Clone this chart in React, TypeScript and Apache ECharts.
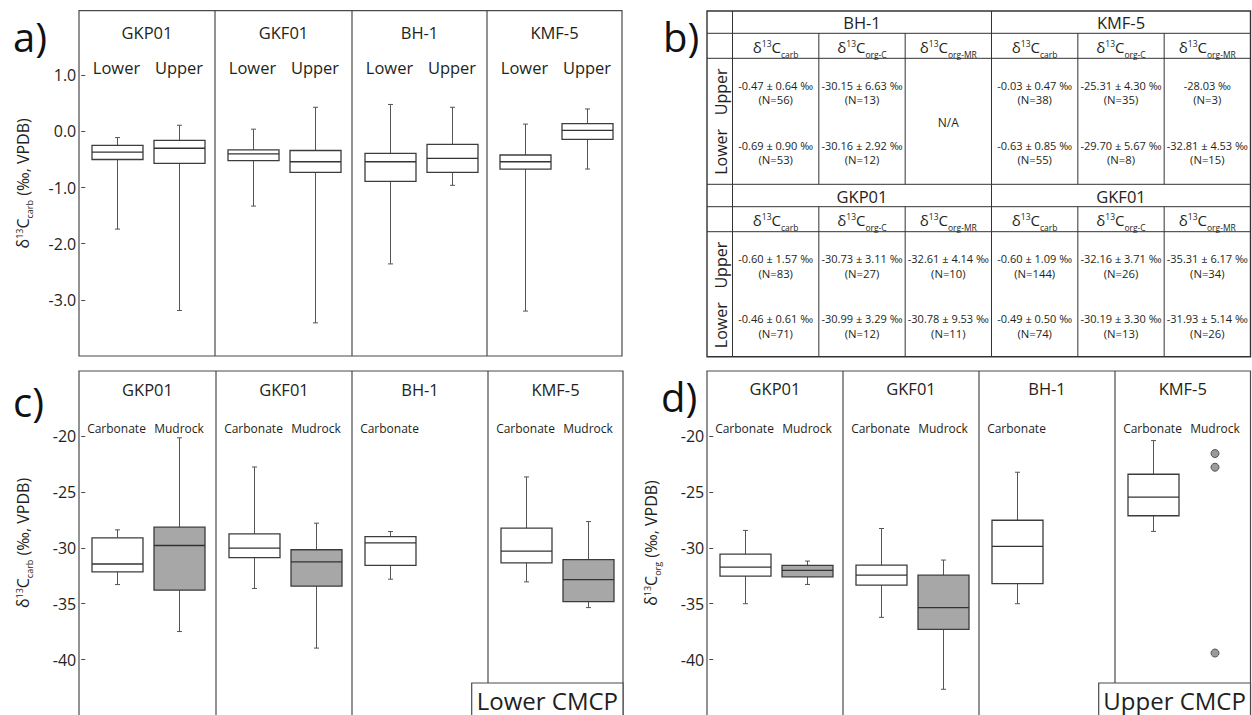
import React, { useEffect, useRef } from 'react';
import * as echarts from 'echarts';

const FONT = '"Open Sans", "Noto Sans", sans-serif';
const INK = '#231f20';
const FRAME = '#4a4a4a';

// ---------- data ----------
const sites = ['GKP01', 'GKF01', 'BH-1', 'KMF-5'];
const stratCats = ['Lower', 'Upper'];
const lithCats = ['Carbonate', 'Mudrock'];
const lithCatsCarbOnly = ['Carbonate', ''];

// Panel a: δ13Ccarb box stats [min, Q1, median, Q3, max]; order Lower, Upper
const carbGKP01 = [[-1.74, -0.5, -0.37, -0.25, -0.11], [-3.19, -0.57, -0.3, -0.16, 0.11]];
const carbGKF01 = [[-1.33, -0.52, -0.4, -0.33, 0.04], [-3.41, -0.73, -0.54, -0.34, 0.43]];
const carbBH1 = [[-2.36, -0.89, -0.54, -0.39, 0.48], [-0.96, -0.73, -0.48, -0.23, 0.43]];
const carbKMF5 = [[-3.2, -0.67, -0.54, -0.42, 0.13], [-0.67, -0.14, 0.02, 0.14, 0.4]];

// Panel c: Lower CMCP; order Carbonate, Mudrock
const lowerGKP01 = [[-33.29, -32.16, -31.45, -29.11, -28.4], [-37.49, -33.79, -29.8, -28.16, -20.17]];
const lowerGKF01 = [[-33.64, -30.89, -30.03, -28.76, -22.78], [-38.97, -33.43, -31.27, -30.18, -27.8]];
const lowerBH1 = [[-32.81, -31.57, -29.56, -29.0, -28.55]];
const lowerKMF5 = [[-33.05, -31.36, -30.3, -28.25, -23.67], [-35.35, -34.82, -32.84, -31.07, -27.66]];

// Panel d: Upper CMCP; order Carbonate, Mudrock
const upperGKP01 = [[-35.0, -32.53, -31.73, -30.57, -28.45], [-33.28, -32.6, -32.03, -31.58, -31.19]];
const upperGKF01 = [[-36.22, -33.34, -32.45, -31.55, -28.28], [-42.65, -37.29, -35.36, -32.45, -31.1]];
const upperBH1 = [[-35.0, -33.21, -29.88, -27.54, -23.25]];
const upperKMF5 = [[-28.54, -27.14, -25.48, -23.43, -20.42]];
const upperKMF5MudrockPoints = [-21.58, -22.8, -39.41];

const carbTicks = [1, 0, -1, -2, -3];
const orgTicks = [-20, -25, -30, -35, -40];

// Panel b table: [mean, sd, N] for carb, org-C, org-MR
const isoSubs = ['carb', 'org-C', 'org-MR'];
const tableTopSites = ['BH-1', 'KMF-5'];
const tableBottomSites = ['GKP01', 'GKF01'];
const bh1Upper = [[-0.47, 0.64, 56], [-30.15, 6.63, 13], null];
const bh1Lower = [[-0.69, 0.9, 53], [-30.16, 2.92, 12], null];
const kmf5Upper = [[-0.03, 0.47, 38], [-25.31, 4.3, 35], [-28.03, null, 3]];
const kmf5Lower = [[-0.63, 0.85, 55], [-29.7, 5.67, 8], [-32.81, 4.53, 15]];
const gkp01Upper = [[-0.6, 1.57, 83], [-30.73, 3.11, 27], [-32.61, 4.14, 10]];
const gkp01Lower = [[-0.46, 0.61, 71], [-30.99, 3.29, 12], [-30.78, 9.53, 11]];
const gkf01Upper = [[-0.6, 1.09, 144], [-32.16, 3.71, 26], [-35.31, 6.17, 34]];
const gkf01Lower = [[-0.49, 0.5, 74], [-30.19, 3.3, 13], [-31.93, 5.14, 26]];

// ---------- layout ----------
const BOX_W = 51;
const CAP = 2.5;

const yName = (sub: string) => `{m|δ}{sup|13}{m|C}{sub|${sub}}{m| (‰, VPDB)}`;

const panels = [
  {
    letter: 'a)', letterX: 13, letterY: 36,
    sections: [79, 215, 352, 487, 622], top: 10.7, bottom: 356,
    min: -4.0, max: 2.15, ticks: carbTicks, fmt: (v: number) => v.toFixed(1),
    boxes: [carbGKP01, carbGKF01, carbBH1, carbKMF5],
    cats: [stratCats, stratCats, stratCats, stratCats],
    catFont: 16.5, fills: ['#ffffff', '#ffffff'], sub: 'carb', titleY: 32.5,
    points: [null, null, null, null], cmcp: null,
  },
  {
    letter: 'c)', letterX: 13, letterY: 401,
    sections: [79, 216, 352, 488, 623], top: 371, bottom: 716,
    min: -44.95, max: -14.2, ticks: orgTicks, fmt: (v: number) => String(v),
    boxes: [lowerGKP01, lowerGKF01, lowerBH1, lowerKMF5],
    cats: [lithCats, lithCats, lithCatsCarbOnly, lithCats],
    catFont: 12, fills: ['#ffffff', '#a7a7a7'], sub: 'carb', titleY: 389.5,
    points: [null, null, null, null], cmcp: { text: 'Lower CMCP', x0: 471.7 },
  },
  {
    letter: 'd)', letterX: 661, letterY: 396,
    sections: [707, 843, 979, 1115, 1250.5], top: 371, bottom: 716,
    min: -44.95, max: -14.2, ticks: orgTicks, fmt: (v: number) => String(v),
    boxes: [upperGKP01, upperGKF01, upperBH1, upperKMF5],
    cats: [lithCats, lithCats, lithCatsCarbOnly, lithCats],
    catFont: 12, fills: ['#ffffff', '#a7a7a7'], sub: 'org', titleY: 388.5,
    points: [null, null, null, upperKMF5MudrockPoints], cmcp: { text: 'Upper CMCP', x0: 1098.7 },
  },
];

const boxRenderer = (fills: string[]) => (params: any, api: any) => {
  const c = api.value(0);
  const pMin = api.coord([c, api.value(1)]);
  const pQ1 = api.coord([c, api.value(2)]);
  const pMed = api.coord([c, api.value(3)]);
  const pQ3 = api.coord([c, api.value(4)]);
  const pMax = api.coord([c, api.value(5)]);
  const x = Math.round(pMed[0]) + 0.5;
  const hw = BOX_W / 2;
  const whisk = { stroke: '#555555', lineWidth: 1 };
  return {
    type: 'group',
    children: [
      { type: 'line', shape: { x1: x, y1: pMax[1], x2: x, y2: pQ3[1] }, style: whisk },
      { type: 'line', shape: { x1: x, y1: pQ1[1], x2: x, y2: pMin[1] }, style: whisk },
      { type: 'line', shape: { x1: x - CAP, y1: pMax[1], x2: x + CAP, y2: pMax[1] }, style: whisk },
      { type: 'line', shape: { x1: x - CAP, y1: pMin[1], x2: x + CAP, y2: pMin[1] }, style: whisk },
      {
        type: 'rect',
        shape: { x: x - hw, y: pQ3[1], width: 2 * hw, height: pQ1[1] - pQ3[1] },
        style: { fill: fills[c], stroke: '#3c3c3c', lineWidth: 1.3 },
      },
      { type: 'line', shape: { x1: x - hw, y1: pMed[1], x2: x + hw, y2: pMed[1] }, style: { stroke: '#333333', lineWidth: 1.3 } },
    ],
  };
};

const txt = (text: string, x: number, y: number, size: number, extra: any = {}) => ({
  type: 'text', x, y, silent: true, ...extra,
  style: { text, fontSize: size, fontFamily: FONT, fill: INK, align: 'center', verticalAlign: 'middle', ...(extra.style || {}) },
});

const isoRich = {
  m: { fontSize: 15, fontFamily: FONT, fill: INK, verticalAlign: 'middle' },
  sup: { fontSize: 8.5, fontFamily: FONT, fill: INK, verticalAlign: 'middle', padding: [0, 0, 7, 0] },
  sub: { fontSize: 8.5, fontFamily: FONT, fill: INK, verticalAlign: 'middle', padding: [15, 0, 0, 0] },
};

const fmtCell = (c: any) => (c[1] == null ? `${c[0].toFixed(2)} ‰` : `${c[0].toFixed(2)} ± ${c[1].toFixed(2)} ‰`);

function buildTable() {
  const els: any[] = [];
  const L = 707, LR = 732.5, R = 1250.5;
  const colW = (R - LR) / 6;
  const stroke = { stroke: '#333333', lineWidth: 1 };
  const halves = [
    { y: [11, 33.3, 58.3, 184.3], names: tableTopSites, upper: [bh1Upper, kmf5Upper], lower: [bh1Lower, kmf5Lower] },
    { y: [184.3, 206.7, 231.7, 356.7], names: tableBottomSites, upper: [gkp01Upper, gkf01Upper], lower: [gkp01Lower, gkf01Lower] },
  ];
  els.push({ type: 'rect', shape: { x: L, y: 11, width: R - L, height: 356.7 - 11 }, style: { fill: 'none', stroke: '#333333', lineWidth: 1.4 } });
  halves.forEach((h, hi) => {
    const [y0, y1, y2, y3] = h.y;
    const hs = hi === 0 ? [y1, y2, y3] : [y1, y2];
    hs.forEach((yy) => els.push({ type: 'line', shape: { x1: L, y1: yy, x2: R, y2: yy }, style: stroke }));
    els.push({ type: 'line', shape: { x1: LR, y1: y0, x2: LR, y2: y3 }, style: stroke });
    for (let k = 1; k < 6; k++) {
      const xx = LR + k * colW;
      els.push({ type: 'line', shape: { x1: xx, y1: k === 3 ? y0 : y1, x2: xx, y2: y3 }, style: stroke });
    }
    h.names.forEach((n, si) => {
      els.push(txt(n, LR + colW * (3 * si + 1.5), (y0 + y1) / 2 + 0.5, 16.5));
      isoSubs.forEach((s, ci) => {
        els.push({
          type: 'text', x: LR + colW * (3 * si + ci + 0.5), y: (y1 + y2) / 2 + 1, silent: true,
          style: { text: `{m|δ}{sup|13}{m|C}{sub|${s}}`, align: 'center', verticalAlign: 'middle', rich: isoRich },
        });
        const up = h.upper[si][ci];
        const lo = h.lower[si][ci];
        const cx = LR + colW * (3 * si + ci + 0.5);
        if (up == null && lo == null) {
          els.push(txt('N/A', cx, (y2 + y3) / 2 + 1, 12));
        } else {
          [[up, 0], [lo, 60]].forEach(([c, dy]: any) => {
            if (!c) return;
            els.push(txt(fmtCell(c), cx, y2 + 26.7 + dy, 11));
            els.push(txt(`(N=${c[2]})`, cx, y2 + 41.5 + dy, 11.3));
          });
        }
      });
    });
    els.push(txt('Upper', (L + LR) / 2 + 1, y2 + 33.5, 16, { rotation: Math.PI / 2 }));
    els.push(txt('Lower', (L + LR) / 2 + 1, y2 + 93.5, 16, { rotation: Math.PI / 2 }));
  });
  els.push({ type: 'text', x: 663, y: 36, silent: true, style: { text: 'b)', fontSize: 40, fontFamily: FONT, fill: '#111', align: 'left', verticalAlign: 'middle' } });
  return els;
}

function buildOption() {
  const grids: any[] = [];
  const xAxes: any[] = [];
  const yAxes: any[] = [];
  const series: any[] = [];
  const graphics: any[] = [];

  panels.forEach((p) => {
    const s = p.sections;
    graphics.push({ type: 'rect', silent: true, shape: { x: s[0], y: p.top, width: s[4] - s[0], height: p.bottom - p.top }, style: { fill: 'none', stroke: FRAME, lineWidth: 1.2 } });
    for (let k = 1; k < 4; k++) {
      graphics.push({ type: 'line', silent: true, shape: { x1: s[k], y1: p.top, x2: s[k], y2: p.bottom }, style: { stroke: FRAME, lineWidth: 1.2 } });
    }
    sites.forEach((name, si) => graphics.push(txt(name, (s[si] + s[si + 1]) / 2, p.titleY, 16.5)));
    graphics.push({ type: 'text', x: p.letterX, y: p.letterY, silent: true, style: { text: p.letter, fontSize: 40, fontFamily: FONT, fill: '#111', align: 'left', verticalAlign: 'middle' } });
    if (p.cmcp) {
      graphics.push({ type: 'rect', silent: true, z: 10, shape: { x: p.cmcp.x0, y: 683, width: s[4] - p.cmcp.x0, height: 40 }, style: { fill: '#ffffff', stroke: FRAME, lineWidth: 1.2 } });
      graphics.push({ ...txt(p.cmcp.text, (p.cmcp.x0 + s[4]) / 2, 700, 24), z: 11 });
    }

    p.boxes.forEach((boxes, si) => {
      const gi = grids.length;
      const first = si === 0;
      grids.push({ left: s[si] + 6.25, top: p.top, width: 125, height: p.bottom - p.top });
      xAxes.push({
        type: 'category', gridIndex: gi, data: p.cats[si], position: 'top', boundaryGap: true,
        axisLine: { show: false }, axisTick: { show: false }, splitLine: { show: false },
        axisLabel: { inside: true, margin: 57, interval: 0, verticalAlign: 'middle', fontSize: p.catFont, fontFamily: FONT, color: INK },
      });
      yAxes.push({
        type: 'value', gridIndex: gi, min: p.min, max: p.max, show: first,
        axisLine: { show: false }, splitLine: { show: false },
        axisTick: { show: first, length: 4, lineStyle: { color: FRAME, width: 1 }, customValues: p.ticks },
        axisLabel: { show: first, customValues: p.ticks, formatter: p.fmt, fontSize: 16, fontFamily: FONT, color: INK, margin: 9 },
        name: first ? yName(p.sub) : '', nameLocation: 'middle', nameRotate: 90, nameGap: 51,
        nameTextStyle: {
          color: INK, fontFamily: FONT, fontSize: 16,
          rich: {
            m: { fontSize: 16, fontFamily: FONT, color: INK, verticalAlign: 'middle' },
            sup: { fontSize: 9, fontFamily: FONT, color: INK, verticalAlign: 'middle', padding: [0, 0, 8, 0] },
            sub: { fontSize: 9, fontFamily: FONT, color: INK, verticalAlign: 'middle', padding: [13, 0, 0, 0] },
          },
        },
      });
      series.push({
        type: 'custom', xAxisIndex: gi, yAxisIndex: gi, renderItem: boxRenderer(p.fills),
        data: boxes.map((b, i) => [i, ...b]), encode: { x: 0, y: [1, 2, 3, 4, 5] }, silent: true,
      });
      const pts = p.points[si];
      if (pts) {
        series.push({
          type: 'scatter', xAxisIndex: gi, yAxisIndex: gi, symbolSize: 8, silent: true,
          data: pts.map((v) => [1, v]),
          itemStyle: { color: '#9b9b9b', borderColor: '#555555', borderWidth: 1, opacity: 1 },
        });
      }
    });
  });

  return {
    animation: false,
    backgroundColor: '#ffffff',
    grid: grids, xAxis: xAxes, yAxis: yAxes, series,
    graphic: { elements: [...graphics, ...buildTable()] },
  };
}

export default function App() {
  const ref = useRef<HTMLDivElement>(null);
  useEffect(() => {
    const chart = echarts.init(ref.current as HTMLDivElement, null, { renderer: 'svg' });
    chart.setOption(buildOption() as any);
    return () => chart.dispose();
  }, []);
  return <div ref={ref} style={{ position: 'fixed', left: 0, top: 0, width: 1252, height: 715, background: '#fff' }} />;
}
